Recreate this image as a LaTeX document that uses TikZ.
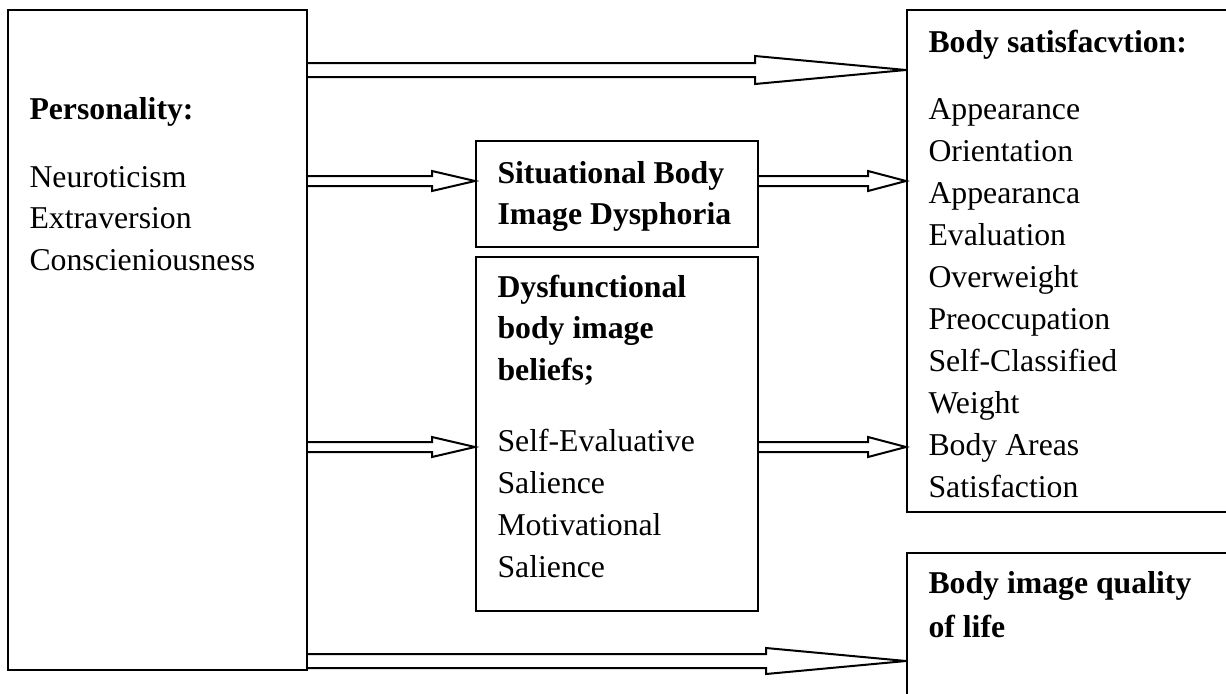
\documentclass[tikz,border=0pt]{standalone}
\usepackage{fontspec}
\setmainfont{Liberation Serif}
\usetikzlibrary{calc,fit}
\newcommand{\labelsize}{\fontsize{12.7pt}{15pt}\selectfont}
\tikzset{
  box/.style={draw, line width=0.8pt, inner sep=0pt},
  txt/.style={anchor=base west, inner sep=0pt, font=\labelsize},
  heading/.style={txt, font=\labelsize\bfseries},
  arrowline/.style={line width=0.8pt, line join=miter}
}
% hollow arrow: source node, tip, half shaft, half head, head length
\newcommand{\hollowarrow}[5]{%
  \draw[arrowline] ($(#1.east |- #2)+(0,#3)$) -- ($(#2)+(-#5,#3)$) -- ($(#2)+(-#5,#4)$)
    -- (#2) -- ($(#2)+(-#5,-#4)$) -- ($(#2)+(-#5,-#3)$) -- ($(#1.east |- #2)+(0,-#3)$);}
\begin{document}
\begin{tikzpicture}[x=0.4pt, y=-0.4pt]
	\useasboundingbox (0,0) rectangle (1226,693);
	\clip (0,0) rectangle (1226,693);
	% boxes
	\node[box, fit={(8,10) (307,670)}] (pers) {};
	\node[box, fit={(907,10) (1240,512)}] (sat) {};
	\node[box, fit={(476,141) (758,247)}] (sit) {};
	\node[box, fit={(476,257) (758,611)}] (dys) {};
	\node[box, fit={(907,553) (1240,720)}] (qol) {};
	% texts
	\node[heading] (perstitle) at (29,119) {Personality:};
	\foreach \t [count=\i from 0] in {Neuroticism, Extraversion, Conscieniousness}
		\node[txt] (pers\i) at (29,187+41.5*\i) {\t};
	\node[heading] (sattitle) at (928,52) {Body satisfacvtion:};
	\foreach \t [count=\i from 0] in {Appearance, Orientation, Appearanca, Evaluation, Overweight, Preoccupation, Self-Classified, Weight, Body Areas, Satisfaction}
		\node[txt] (sat\i) at (928,119+42*\i) {\t};
	\node[heading] (sit1) at (497,183) {Situational Body};
	\node[heading] (sit2) at (497,224) {Image Dysphoria};
	\foreach \t [count=\i from 0] in {Dysfunctional, body image, {beliefs;}}
		\node[heading] (dyshead\i) at (497,297+41.5*\i) {\t};
	\foreach \t [count=\i from 0] in {Self-Evaluative, Salience, Motivational, Salience}
		\node[txt] (dys\i) at (497,451+42*\i) {\t};
	\node[heading] (qol1) at (928,593) {Body image quality};
	\node[heading] (qol2) at (928,637) {of life};
	% arrow tips
	\coordinate (t1) at ($(sat.north west)+(0,61)$);
	\coordinate (t2) at ($(sit.north west)+(0,41)$);
	\coordinate (t3) at ($(sat.north west)+(0,172)$);
	\coordinate (t4) at ($(dys.north west)+(0,191)$);
	\coordinate (t5) at ($(sat.north west)+(0,438)$);
	\coordinate (t6) at ($(qol.north west)+(0,109)$);
	% arrows
	\hollowarrow{pers}{t1}{7}{14}{151}
	\hollowarrow{pers}{t2}{5}{10}{43}
	\hollowarrow{sit}{t3}{5}{10}{38}
	\hollowarrow{pers}{t4}{5}{10}{43}
	\hollowarrow{dys}{t5}{5}{10}{38}
	\hollowarrow{pers}{t6}{7}{13}{140}
\end{tikzpicture}
\end{document}
